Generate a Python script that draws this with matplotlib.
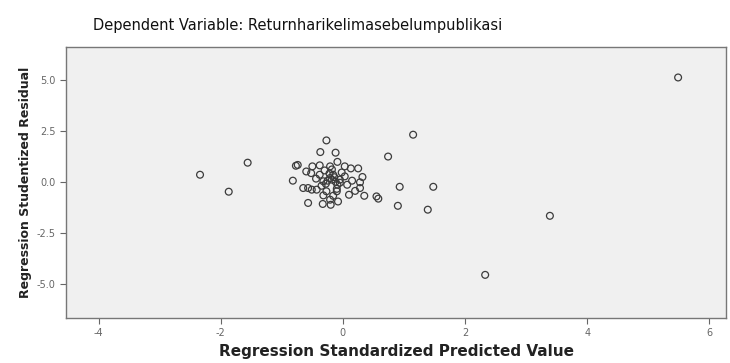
import numpy as np
import matplotlib.pyplot as plt

plt.rcParams['font.family'] = ['DejaVu Sans']
plt.rcParams['axes.unicode_minus'] = False

# standardized predicted value vs studentized residual
pred = [5.49, 3.39, 2.33, 1.48, 1.39, 0.93, 0.90, 1.15, 0.74, -0.27,
        -1.56, -2.34, -1.87, -0.77, -0.82, -0.37, -0.12, -0.74, -0.09, 0.03,
        0.13, 0.25, -0.50, -0.38, -0.21, -0.52, 0.32, 0.28, 0.28, -0.65,
        -0.57, -0.51, 0.07, -0.09, -0.21, -0.32, -0.16, 0.03, -0.05, -0.38,
        -0.43, -0.27, -0.10, 0.10, 0.35, 0.55, 0.58, -0.16, -0.32, -0.57,
        -0.33, -0.20, -0.08, -0.21, -0.25, -0.18, -0.12, -0.05, -0.28, -0.14,
        -0.22, -0.30, -0.02, 0.15, -0.44, -0.60, 0.20, -0.35, -0.10, -0.18]
resid = [5.10, -1.67, -4.56, -0.25, -1.37, -0.25, -1.18, 2.30, 1.23, 2.02,
         0.93, 0.34, -0.49, 0.78, 0.05, 1.45, 1.42, 0.82, 0.97, 0.75,
         0.65, 0.65, 0.75, 0.80, 0.75, 0.42, 0.23, -0.03, -0.31, -0.31,
         -0.31, -0.39, -0.15, -0.15, 0.18, 0.02, 0.34, 0.26, 0.10, 0.34,
         -0.39, -0.47, -0.47, -0.64, -0.69, -0.72, -0.83, -0.69, -0.67, -1.04,
         -1.09, -1.13, -0.97, -0.88, 0.05, 0.10, 0.00, -0.05, -0.10, 0.22,
         0.40, 0.55, 0.45, 0.05, 0.15, 0.50, -0.45, -0.20, -0.35, 0.60]

x_ticks = [-4, -2, 0, 2, 4, 6]
y_ticks = [5.0, 2.5, 0.0, -2.5, -5.0]

fig = plt.figure(figsize=(7.3, 3.63), dpi=100)
ax = fig.add_axes([0.090, 0.124, 0.905, 0.747])
ax.set_facecolor('#f0f0f0')

ax.scatter(pred, resid, s=24, facecolors='none', edgecolors='#3c3c3c', linewidths=0.9)

ax.set_xlim(-4.54, 6.28)
ax.set_ylim(-6.67, 6.6)
ax.set_xticks(x_ticks)
ax.set_yticks(y_ticks)
ax.set_yticklabels([f'{v:.1f}' for v in y_ticks])
ax.tick_params(labelsize=7, colors='#666666', length=4, width=0.8)

for sp in ax.spines.values():
    sp.set_color('#777777')
    sp.set_linewidth(1.0)

ax.set_xlabel('Regression Standardized Predicted Value', fontsize=11, fontweight='bold',
              color='#222222', labelpad=4)
ax.set_ylabel('Regression Studentized Residual', fontsize=9, fontweight='bold',
              color='#222222', labelpad=3)

fig.text(0.127, 0.93, 'Dependent Variable: Returnharikelimasebelumpublikasi',
         fontsize=10.5, ha='left', va='center', color='#111111')

fig.savefig('out.png', dpi=100)
